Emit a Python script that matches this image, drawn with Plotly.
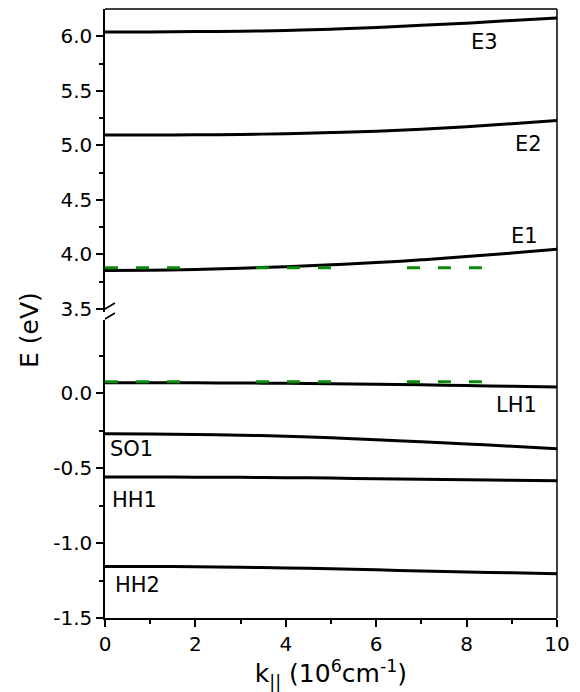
import plotly.graph_objects as go

# ---- data ----
k = [0, 1, 2, 3, 4, 5, 6, 7, 8, 9, 10]
E3 = [6.040, 6.040, 6.043, 6.047, 6.053, 6.065, 6.080, 6.100, 6.120, 6.145, 6.168]
E2 = [5.094, 5.094, 5.096, 5.100, 5.107, 5.117, 5.130, 5.148, 5.170, 5.198, 5.228]
E1 = [3.853, 3.855, 3.862, 3.874, 3.888, 3.905, 3.925, 3.950, 3.980, 4.012, 4.048]
LH1 = [0.069, 0.069, 0.068, 0.067, 0.065, 0.062, 0.059, 0.055, 0.050, 0.045, 0.040]
SO1 = [-0.272, -0.273, -0.276, -0.281, -0.288, -0.298, -0.311, -0.325, -0.339, -0.355, -0.371]
HH1 = [-0.560, -0.560, -0.561, -0.562, -0.564, -0.567, -0.571, -0.575, -0.578, -0.582, -0.585]
HH2 = [-1.157, -1.157, -1.158, -1.161, -1.166, -1.172, -1.179, -1.186, -1.193, -1.199, -1.205]

green_k_start = [0.0, 3.34, 6.68]
green_k_end = [1.66, 5.0, 8.35]
green_upper_E = 3.878
green_lower_E = 0.075

upper_bands = {"E3": E3, "E2": E2, "E1": E1}
lower_bands = {"LH1": LH1, "SO1": SO1, "HH1": HH1, "HH2": HH2}

label_pos = {
    "E3": (8.40, 5.945, "y2"),
    "E2": (9.37, 5.009, "y2"),
    "E1": (9.28, 4.168, "y2"),
    "LH1": (9.11, -0.078, "y"),
    "SO1": (0.59, -0.371, "y"),
    "HH1": (0.66, -0.711, "y"),
    "HH2": (0.72, -1.283, "y"),
}

FONT = "DejaVu Sans, Liberation Sans, Arial, sans-serif"
fig = go.Figure()

for name, vals in upper_bands.items():
    fig.add_trace(go.Scatter(x=k, y=vals, mode="lines", yaxis="y2",
                             line=dict(color="black", width=3, shape="spline"),
                             showlegend=False, hoverinfo="skip"))
for name, vals in lower_bands.items():
    fig.add_trace(go.Scatter(x=k, y=vals, mode="lines", yaxis="y",
                             line=dict(color="black", width=3, shape="spline"),
                             showlegend=False, hoverinfo="skip"))

for ks, ke in zip(green_k_start, green_k_end):
    fig.add_trace(go.Scatter(x=[ks, ke], y=[green_upper_E, green_upper_E], mode="lines",
                             yaxis="y2", line=dict(color="#0a8a0a", width=3, dash="13px,18px"),
                             showlegend=False, hoverinfo="skip"))
    fig.add_trace(go.Scatter(x=[ks, ke], y=[green_lower_E, green_lower_E], mode="lines",
                             yaxis="y", line=dict(color="#0a8a0a", width=3, dash="13px,18px"),
                             showlegend=False, hoverinfo="skip"))

for name, (lx, ly, yr) in label_pos.items():
    fig.add_annotation(x=lx, y=ly, xref="x", yref=yr, text=name, showarrow=False,
                       font=dict(family=FONT, size=21, color="black"))

# y axis title
fig.add_annotation(x=-0.166, y=0.473, xref="paper", yref="paper", text="E (eV)",
                   textangle=-90, showarrow=False, xanchor="center", yanchor="middle",
                   font=dict(family=FONT, size=25, color="black"))

# top and right frame lines
fig.add_shape(type="line", xref="paper", yref="paper", x0=0, x1=1, y0=1, y1=1,
              line=dict(color="black", width=1.5))
fig.add_shape(type="line", xref="paper", yref="paper", x0=1, x1=1, y0=0, y1=1,
              line=dict(color="black", width=1.5))

# axis break slashes
for yc in [309, 319]:
    fig.add_shape(type="line", xref="x", yref="paper",
                  x0=-0.22, x1=0.22,
                  y0=(618 - (yc + 6)) / 609, y1=(618 - (yc - 6)) / 609,
                  line=dict(color="black", width=1.5))

axis_common = dict(showline=True, linecolor="black", linewidth=1.5, ticks="outside",
                   ticklen=7, tickwidth=1.5, tickcolor="black", showgrid=False,
                   zeroline=False, tickfont=dict(family=FONT, size=20, color="black"))

fig.update_layout(
    width=580, height=692,
    margin=dict(l=105, r=23, t=9, b=74),
    paper_bgcolor="white", plot_bgcolor="white",
    xaxis=dict(range=[0, 10], tickvals=[0, 2, 4, 6, 8, 10],
               minor=dict(tickvals=[1, 3, 5, 7, 9], ticklen=4, tickwidth=1.5,
                          tickcolor="black", ticks="outside"),
               title=dict(text="k<sub>||</sub> (10<sup>6</sup>cm<sup>-1</sup>)",
                          font=dict(family=FONT, size=25, color="black"), standoff=6),
               **axis_common),
    yaxis=dict(domain=[0, 0.490], range=[-1.5, 0.49],
               tickvals=[-1.5, -1.0, -0.5, 0.0], ticktext=["-1.5", "-1.0", "-0.5", "0.0"],
               minor=dict(tickvals=[-1.25, -0.75, -0.25, 0.25], ticklen=4, tickwidth=1.5,
                          tickcolor="black", ticks="outside"),
               **axis_common),
    yaxis2=dict(domain=[0.503, 1], range=[3.475, 6.25],
                tickvals=[3.5, 4.0, 4.5, 5.0, 5.5, 6.0],
                ticktext=["3.5", "4.0", "4.5", "5.0", "5.5", "6.0"],
                minor=dict(tickvals=[3.75, 4.25, 4.75, 5.25, 5.75], ticklen=4, tickwidth=1.5,
                           tickcolor="black", ticks="outside"),
                anchor="x",
                **axis_common),
)

fig.write_html("out.html")
